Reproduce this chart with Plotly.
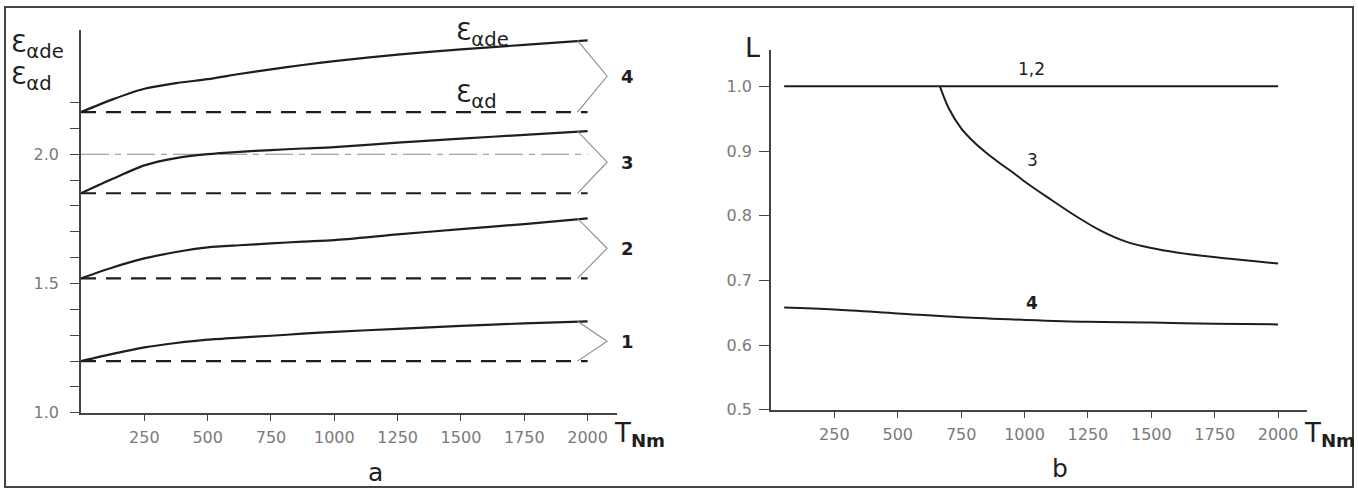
import plotly.graph_objects as go

# ---------------- data ----------------
left_T = [0, 125, 250, 375, 500, 625, 750, 875, 1000, 1250, 1500, 1750, 2000]
eps_de_1 = [1.200, 1.228, 1.253, 1.270, 1.283, 1.291, 1.298, 1.306, 1.313, 1.325, 1.336, 1.346, 1.354]
eps_de_2 = [1.520, 1.562, 1.597, 1.622, 1.640, 1.648, 1.655, 1.662, 1.668, 1.690, 1.710, 1.730, 1.752]
eps_de_3 = [1.849, 1.905, 1.957, 1.985, 2.000, 2.009, 2.016, 2.022, 2.027, 2.045, 2.060, 2.075, 2.089]
eps_de_4 = [2.163, 2.212, 2.253, 2.275, 2.290, 2.310, 2.328, 2.345, 2.360, 2.385, 2.405, 2.423, 2.440]
eps_d = [1.200, 1.520, 1.849, 2.163]
dashed_T = [0, 2000]
ref_line_T = [0, 2000]
ref_line_val = 2.0
bracket_T = [1960, 2077, 1960]
curve_names = ["1", "2", "3", "4"]

L12_T = [52, 2000]
L12 = [1.0, 1.0]
L3_T = [666, 700, 750, 800, 850, 900, 950, 1000, 1100, 1200, 1300, 1400, 1500,
        1600, 1700, 1800, 1900, 2000]
L3 = [1.000, 0.967, 0.935, 0.914, 0.897, 0.882, 0.868, 0.853, 0.826, 0.800, 0.777,
      0.760, 0.750, 0.743, 0.738, 0.734, 0.730, 0.726]
L4_T = [52, 250, 500, 750, 1000, 1250, 1500, 1750, 2000]
L4 = [0.658, 0.655, 0.649, 0.643, 0.639, 0.636, 0.635, 0.633, 0.632]

x_ticks = [250, 500, 750, 1000, 1250, 1500, 1750, 2000]
left_y_ticks = [1.0, 1.1, 1.2, 1.3, 1.4, 1.5, 1.6, 1.7, 1.8, 1.9, 2.0, 2.1, 2.2]
left_y_labels = ["1.0", " ", " ", " ", " ", "1.5", " ", " ", " ", " ", "2.0", " ", " "]
right_y_ticks = [0.5, 0.6, 0.7, 0.8, 0.9, 1.0]
right_y_labels = ["0.5", "0.6", "0.7", "0.8", "0.9", "1.0"]

# ---------------- figure ----------------
W, H = 1358, 500          # captured page is squeezed to 489 px tall
REF_H = 489               # positions below are measured in the 1358x489 reference
FONT = "DejaVu Sans"
INK = "#1e1e1e"
GRAY = "#7a7a7a"

def px(v):
    return v / W

def py(v):
    return 1 - v / REF_H

fig = go.Figure()

de_curves = [eps_de_1, eps_de_2, eps_de_3, eps_de_4]

# reference dash-dot line at 2.0
fig.add_trace(go.Scatter(x=ref_line_T, y=[ref_line_val, ref_line_val], mode="lines",
                         line=dict(color="#8a8a8a", width=1.1, dash="28px,6px,6px,6px"),
                         xaxis="x", yaxis="y", hoverinfo="skip"))

for i, de in enumerate(de_curves):
    fig.add_trace(go.Scatter(x=left_T, y=de, mode="lines", line_shape="spline",
                             line=dict(color=INK, width=2.2, smoothing=0.7), xaxis="x", yaxis="y"))
    fig.add_trace(go.Scatter(x=dashed_T, y=[eps_d[i], eps_d[i]], mode="lines",
                             line=dict(color=INK, width=2.2, dash="15px,10px"),
                             xaxis="x", yaxis="y"))
    mid = (de[-1] + eps_d[i]) / 2
    fig.add_trace(go.Scatter(x=bracket_T, y=[de[-1], mid, eps_d[i]], mode="lines",
                             line=dict(color="#8a8a8a", width=1.1), xaxis="x", yaxis="y"))
    fig.add_annotation(x=px(627), y=mid, xref="paper", yref="y", text="<b>%s</b>" % curve_names[i],
                       showarrow=False, font=dict(family=FONT, size=18, color=INK),
                       xanchor="center", yanchor="middle")

# right panel
fig.add_trace(go.Scatter(x=L12_T, y=L12, mode="lines", line=dict(color=INK, width=2),
                         xaxis="x2", yaxis="y2"))
fig.add_trace(go.Scatter(x=L3_T, y=L3, mode="lines", line_shape="spline",
                         line=dict(color=INK, width=2, smoothing=0.8), xaxis="x2", yaxis="y2"))
fig.add_trace(go.Scatter(x=L4_T, y=L4, mode="lines", line_shape="spline",
                         line=dict(color=INK, width=2), xaxis="x2", yaxis="y2"))

fig.add_annotation(x=1027, y=1.0, xref="x2", yref="y2", yshift=17, text="1,2", showarrow=False,
                   font=dict(family=FONT, size=17, color=INK), xanchor="center", yanchor="middle")
fig.add_annotation(x=1030, y=0.862, xref="x2", yref="y2", yshift=16, text="3", showarrow=False,
                   font=dict(family=FONT, size=17, color=INK), xanchor="center", yanchor="middle")
fig.add_annotation(x=1030, y=0.64, xref="x2", yref="y2", yshift=16, text="<b>4</b>", showarrow=False,
                   font=dict(family=FONT, size=17, color=INK), xanchor="center", yanchor="middle")

# text labels
eps_font = dict(family=FONT, size=28, color=INK)
EPS = "<span style='font-size:25px'>Ɛ</span>"
fig.add_annotation(x=px(9), y=py(46), xref="paper", yref="paper", text=EPS + "<sub>αde</sub>",
                   showarrow=False, font=eps_font, xanchor="left", yanchor="middle")
fig.add_annotation(x=px(9), y=py(78), xref="paper", yref="paper", text=EPS + "<sub>αd</sub>",
                   showarrow=False, font=eps_font, xanchor="left", yanchor="middle")
fig.add_annotation(x=px(454), y=py(34), xref="paper", yref="paper", text=EPS + "<sub>αde</sub>",
                   showarrow=False, font=eps_font, xanchor="left", yanchor="middle")
fig.add_annotation(x=px(454), y=py(96), xref="paper", yref="paper", text=EPS + "<sub>αd</sub>",
                   showarrow=False, font=eps_font, xanchor="left", yanchor="middle")

tn_font = dict(family=FONT, size=26, color=INK)
fig.add_annotation(x=px(612), y=py(434), xref="paper", yref="paper", text="T<sub><b>Nm</b></sub>",
                   showarrow=False, font=tn_font, xanchor="left", yanchor="middle")
fig.add_annotation(x=px(1302), y=py(434), xref="paper", yref="paper", text="T<sub><b>Nm</b></sub>",
                   showarrow=False, font=tn_font, xanchor="left", yanchor="middle")
fig.add_annotation(x=px(752), y=py(47), xref="paper", yref="paper", text="L",
                   showarrow=False, font=dict(family=FONT, size=27, color=INK),
                   xanchor="center", yanchor="middle")
fig.add_annotation(x=px(375), y=py(472), xref="paper", yref="paper", text="a",
                   showarrow=False, font=dict(family=FONT, size=25, color=INK),
                   xanchor="center", yanchor="middle")
fig.add_annotation(x=px(1060), y=py(468), xref="paper", yref="paper", text="b",
                   showarrow=False, font=dict(family=FONT, size=25, color=INK),
                   xanchor="center", yanchor="middle")

# outer frame
fig.add_shape(type="rect", xref="paper", yref="paper", x0=px(5), x1=px(1353), y0=py(486), y1=py(7),
              line=dict(color="#444444", width=2))

tickfont = dict(family=FONT, size=16, color=GRAY)
common_x = dict(showgrid=False, zeroline=False, showline=True, linecolor="#444444", linewidth=1.6,
                ticks="outside", ticklen=6, tickwidth=1.4, tickcolor="#444444",
                tickvals=x_ticks, ticktext=[str(v) for v in x_ticks], tickfont=tickfont,
                ticklabelstandoff=3)
common_y = dict(showgrid=False, zeroline=False, showline=True, linecolor="#444444", linewidth=1.6,
                ticks="outside", tickwidth=1.4, tickcolor="#444444", tickfont=tickfont)

fig.update_layout(
    width=W, height=H, autosize=False,
    margin=dict(l=0, r=0, t=0, b=0),
    paper_bgcolor="white", plot_bgcolor="white",
    showlegend=False,
    xaxis=dict(domain=[px(81), px(617)], range=[0, 2116], anchor="y", **common_x),
    yaxis=dict(domain=[py(412), py(30)], range=[1.0, 2.48], anchor="x",
               tickvals=left_y_ticks, ticktext=left_y_labels, ticklen=9,
               ticklabelstandoff=8, **common_y),
    xaxis2=dict(domain=[px(771), px(1307)], range=[0, 2114], anchor="y2", **common_x),
    yaxis2=dict(domain=[py(409), py(50)], range=[0.5, 1.056], anchor="x2",
                tickvals=right_y_ticks, ticktext=right_y_labels, ticklen=10,
                ticklabelstandoff=4, **common_y),
)

post = (
    "var s=document.createElement('style');"
    "s.textContent='html,body{margin:0;padding:0;overflow:hidden;}"
    ".plotly-graph-div{display:block;}';"
    "document.head.appendChild(s);"
)
fig.write_html("out.html", config={"displayModeBar": False}, post_script=post)
